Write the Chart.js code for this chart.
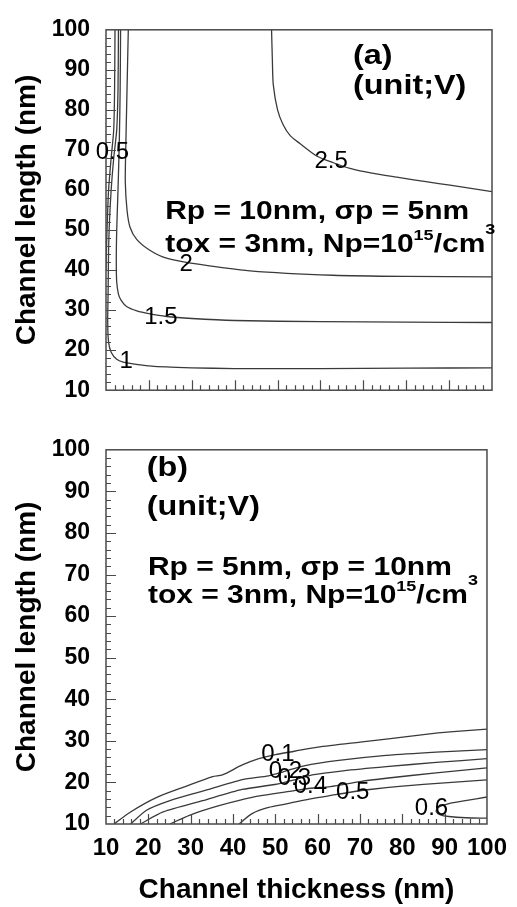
<!DOCTYPE html>
<html>
<head>
<meta charset="utf-8">
<title>Channel contour maps</title>
<script src="https://cdn.jsdelivr.net/npm/chart.js@4.4.1/dist/chart.umd.min.js"></script>
<style>
    html, body { margin: 0; padding: 0; background: #fff; }
    canvas { display: block; }
</style>
</head>
<body>
<canvas id="topChart" width="517" height="420"></canvas>
<canvas id="bottomChart" width="517" height="487"></canvas>
<script>
// tick labels (both axes, both panels)
const tickValues = [10, 20, 30, 40, 50, 60, 70, 80, 90, 100];

// panel (a): contour lines, channel thickness vs channel length
const topLevels = ['0.5', '1', '1.5', '2', '2.5'];
const topThick05 = [12.1, 12.0, 11.8, 11.2, 10.6, 10.3, 10.1, 10.0];
const topLen05 = [100, 85, 75, 68, 60, 52, 45, 40];
const topThick1 = [12.9, 12.8, 12.5, 11.8, 11.2, 10.8, 10.6, 10.5, 10.4, 10.6, 11.2, 12.5, 14.0, 16.3, 20, 24, 30, 40, 60, 80, 100];
const topLen1 = [100, 85, 75, 68, 60, 52, 45, 35, 27, 22, 19.5, 17.7, 17.0, 16.6, 16.1, 15.8, 15.6, 15.4, 15.4, 15.5, 15.6];
const topThick15 = [13.4, 13.3, 13.1, 12.8, 12.5, 12.4, 12.5, 12.9, 13.5, 14.8, 17.2, 20, 24.1, 30, 40, 60, 80, 100];
const topLen15 = [100, 85, 72, 60, 50, 42, 37, 34, 32.5, 30.9, 29.8, 29.1, 28.4, 27.9, 27.4, 27.1, 27.0, 26.9];
const topThick2 = [15.2, 15.0, 14.8, 14.6, 14.5, 14.9, 15.6, 17.2, 20.3, 24.1, 31.9, 43.6, 62.9, 80, 100];
const topLen2 = [100, 90, 80, 70, 62, 55, 50.7, 47.6, 44.9, 43, 41.4, 39.8, 38.7, 38.4, 38.3];
const topThick25 = [48.6, 48.8, 49, 50, 51.3, 53, 55.2, 59.1, 63, 66.9, 72, 78.5, 85, 90.2, 100];
const topLen25 = [100, 92, 86.3, 80, 76.3, 73.5, 71.6, 68.5, 66.8, 65.4, 64.2, 63.1, 62, 61.2, 59.6];
const topLabelThick = [11.5, 14.7, 22.8, 28.7, 62.5];
const topLabelLen = [69.5, 17.2, 28.1, 41.4, 67.2];

// panel (b)
const botLevels = ['0.1', '0.2', '0.3', '0.4', '0.5', '0.6'];
const botThick01 = [11.9, 15.8, 22, 29, 35.2, 37.5, 42.2, 46.1, 50, 54.5, 60, 70, 76.2, 85, 92, 100];
const botLen01 = [10, 12.9, 16.4, 19.1, 21.4, 21.8, 24.2, 25.7, 26.7, 27.5, 28.5, 29.7, 30.4, 31.5, 32.2, 32.8];
const botThick02 = [15.8, 19.6, 25.1, 32.8, 42.2, 48.4, 52, 56.8, 65, 76.2, 88, 100];
const botLen02 = [10, 13.3, 15.6, 17.9, 20.7, 21.6, 22.6, 24.0, 25.3, 26.5, 27.3, 27.9];
const botThick03 = [18.1, 23.5, 32.8, 42.2, 49.9, 54.5, 58.7, 66, 76.2, 88, 100];
const botLen03 = [10, 12.9, 15.6, 18.3, 19.5, 20.6, 21.8, 22.8, 23.8, 24.8, 25.7];
const botThick04 = [25.1, 29.7, 36.7, 44.5, 53.8, 58.3, 63, 70, 76.2, 88, 100];
const botLen04 = [10, 12.1, 14.4, 16.4, 17.9, 18.6, 19.0, 20.2, 21, 22.3, 23.5];
const botThick05 = [41.4, 44.5, 48.4, 52.9, 58, 64.6, 68, 72.3, 80, 90, 100];
const botLen05 = [10, 12.5, 14, 14.9, 16, 17.1, 17.7, 18.3, 19.1, 19.9, 20.6];
const botThick06 = [100, 94.9, 91, 88.5, 88, 89, 91, 95, 100];
const botLen06 = [16.5, 15.6, 14.9, 14, 13, 12.2, 11.8, 11.5, 11.4];
const botLabelThick = [50.6, 52.4, 54.5, 58.3, 68.3, 86.9];
const botLabelLen = [26.8, 22.6, 21.0, 19.1, 17.7, 13.7];

// text notes inside each panel (^ marks a superscript)
const topNotes = ['(a)', '(unit;V)', 'Rp = 10nm, \u03c3p = 5nm', 'tox = 3nm, Np=10^15/cm^3'];
const botNotes = ['(b)', '(unit;V)', 'Rp = 5nm, \u03c3p = 10nm', 'tox = 3nm, Np=10^15/cm^3'];

Chart.defaults.font.family = '"Liberation Sans", Arial, sans-serif';
Chart.defaults.color = '#000';

const FAMILY = '"Liberation Sans", Arial, sans-serif';
const LINE = '#3a3a3a';

function toPoints(xs, ys) {
    return xs.map((x, i) => ({ x: x, y: ys[i] }));
}

function lineSet(xs, ys) {
    return {
        data: toPoints(xs, ys),
        showLine: true,
        borderColor: LINE,
        borderWidth: 1.3,
        pointRadius: 0,
        tension: 0.25,
        fill: false
    };
}

// where the notes sit (data units) and how big they are
const topNoteLayout = [
    { x: 67.6, y: 91.4, size: 27 },
    { x: 67.6, y: 84.0, size: 27 },
    { x: 23.8, y: 52.8, size: 25 },
    { x: 23.8, y: 44.4, size: 25 }
];
const botNoteLayout = [
    { x: 19.6, y: 93.7, size: 27 },
    { x: 19.6, y: 84.3, size: 27 },
    { x: 19.9, y: 69.8, size: 25 },
    { x: 19.9, y: 63.1, size: 25 }
];

function drawNote(ctx, text, px, py, size) {
    const stretch = 1.2;
    const parts = text.split(/\^(\d+)/);
    let cx = 0;
    let sup = 0;
    ctx.save();
    ctx.translate(px, py);
    ctx.scale(stretch, 1);
    ctx.textAlign = 'left';
    ctx.textBaseline = 'alphabetic';
    parts.forEach((p, i) => {
        if (!p) return;
        if (i % 2 === 1) {
            ctx.font = 'bold 15px ' + FAMILY;
            const rise = sup === 0 ? 12 : 18;
            ctx.fillText(p, cx, -rise);
            cx += ctx.measureText(p).width;
            sup++;
        } else {
            ctx.font = 'bold ' + size + 'px ' + FAMILY;
            ctx.fillText(p, cx, 0);
            cx += ctx.measureText(p).width;
        }
    });
    ctx.restore();
}

const framePlugin = {
    id: 'frame',
    afterDatasetsDraw(chart, args, opts) {
        const { ctx, chartArea: a } = chart;
        const xs = chart.scales.x;
        const ys = chart.scales.y;
        ctx.save();
        ctx.strokeStyle = '#4a4a4a';
        ctx.lineWidth = 1.5;
        ctx.strokeRect(a.left, a.top, a.right - a.left, a.bottom - a.top);

        // inward tick marks, minor every 2 nm
        ctx.lineWidth = 1.2;
        ctx.beginPath();
        for (let v = 12; v < 100; v += 2) {
            const len = v % 10 === 0 ? 10 : 5;
            const px = Math.round(xs.getPixelForValue(v)) + 0.5;
            ctx.moveTo(px, a.bottom);
            ctx.lineTo(px, a.bottom - len);
            const py = Math.round(ys.getPixelForValue(v)) + 0.5;
            ctx.moveTo(a.left, py);
            ctx.lineTo(a.left + len, py);
        }
        ctx.stroke();

        // contour level labels
        ctx.fillStyle = '#000';
        ctx.font = '24px ' + FAMILY;
        ctx.textAlign = 'center';
        ctx.textBaseline = 'middle';
        opts.levels.forEach((t, i) => {
            ctx.fillText(t, xs.getPixelForValue(opts.labelX[i]), ys.getPixelForValue(opts.labelY[i]));
        });

        // notes
        ctx.fillStyle = '#000';
        opts.notes.forEach((t, i) => {
            const n = opts.noteLayout[i];
            drawNote(ctx, t, xs.getPixelForValue(n.x), ys.getPixelForValue(n.y), n.size);
        });
        ctx.restore();
    }
};

function setTicks(scale) {
    scale.ticks = tickValues.map(v => ({ value: v }));
}

function makeChart(id, datasets, opts) {
    return new Chart(document.getElementById(id), {
        type: 'scatter',
        data: { datasets: datasets },
        options: {
            responsive: false,
            animation: false,
            layout: { padding: { top: 18, right: 25, left: 0, bottom: 0 } },
            plugins: {
                legend: { display: false },
                tooltip: { enabled: false },
                frame: opts.frame
            },
            scales: {
                x: {
                    type: 'linear',
                    min: 10,
                    max: 100,
                    afterBuildTicks: setTicks,
                    grid: { display: false, drawTicks: false },
                    border: { display: false },
                    ticks: {
                        display: opts.showX,
                        padding: 10,
                        maxRotation: 0,
                        minRotation: 0,
                        autoSkip: false,
                        font: { size: 24, weight: 'bold' },
                        color: '#000'
                    },
                    title: {
                        display: opts.showX,
                        text: 'Channel thickness (nm)',
                        font: { size: 28, weight: 'bold' },
                        color: '#000',
                        padding: { top: 0, bottom: 0 }
                    },
                    afterFit: s => { s.height = opts.xHeight; }
                },
                y: {
                    type: 'linear',
                    min: 10,
                    max: 100,
                    afterBuildTicks: setTicks,
                    grid: { display: false, drawTicks: false },
                    border: { display: false },
                    ticks: {
                        padding: 16,
                        autoSkip: false,
                        font: { size: 23, weight: 'bold' },
                        color: '#000'
                    },
                    title: {
                        display: true,
                        text: 'Channel length (nm)',
                        font: { size: 28, weight: 'bold' },
                        color: '#000',
                        padding: { top: 10, bottom: 0 }
                    },
                    afterFit: s => { s.width = 106; }
                }
            }
        },
        plugins: [framePlugin]
    });
}

makeChart('topChart', [
    lineSet(topThick05, topLen05),
    lineSet(topThick1, topLen1),
    lineSet(topThick15, topLen15),
    lineSet(topThick2, topLen2),
    lineSet(topThick25, topLen25)
], {
    showX: false,
    xHeight: 15,
    frame: { levels: topLevels, labelX: topLabelThick, labelY: topLabelLen, notes: topNotes, noteLayout: topNoteLayout }
});

makeChart('bottomChart', [
    lineSet(botThick01, botLen01),
    lineSet(botThick02, botLen02),
    lineSet(botThick03, botLen03),
    lineSet(botThick04, botLen04),
    lineSet(botThick05, botLen05),
    lineSet(botThick06, botLen06)
], {
    showX: true,
    xHeight: 83,
    frame: { levels: botLevels, labelX: botLabelThick, labelY: botLabelLen, notes: botNotes, noteLayout: botNoteLayout }
});
</script>
</body>
</html>
